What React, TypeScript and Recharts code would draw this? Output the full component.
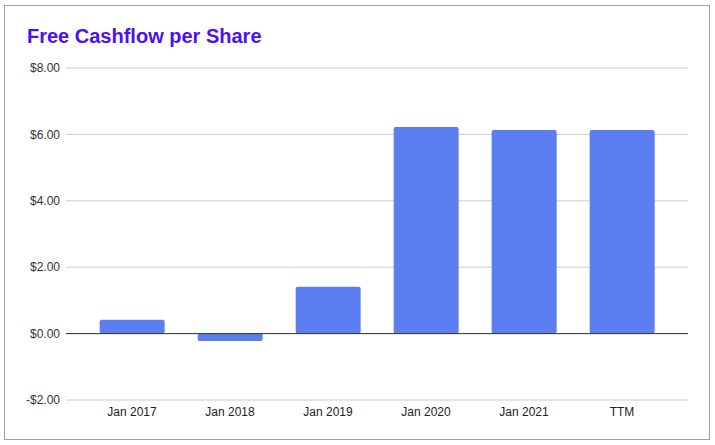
import { BarChart, Bar, XAxis, YAxis, CartesianGrid, ReferenceLine } from 'recharts'

const categories = ['Jan 2017', 'Jan 2018', 'Jan 2019', 'Jan 2020', 'Jan 2021', 'TTM']
const fcfPerShare = [0.42, -0.22, 1.41, 6.22, 6.13, 6.13]
const yTicks = [-2, 0, 2, 4, 6, 8]

const data = categories.map((name, i) => ({ name, value: fcfPerShare[i] }))

const fmt = (v: number) => (v < 0 ? `-$${Math.abs(v).toFixed(2)}` : `$${v.toFixed(2)}`)

export default function App() {
  return (
    <div
      style={{
        position: 'fixed',
        top: 0,
        left: 0,
        width: 715,
        height: 445,
        background: '#fff',
        fontFamily: '"Liberation Sans", Arial, sans-serif',
      }}
    >
      <div
        style={{
          position: 'absolute',
          left: 4,
          top: 5,
          width: 706,
          height: 435,
          border: '1px solid #a0a0a0',
          boxSizing: 'border-box',
        }}
      />
      <div
        style={{
          position: 'absolute',
          left: 27,
          top: 25,
          fontSize: 20,
          fontWeight: 'bold',
          color: '#4c0ff7',
        }}
      >
        Free Cashflow per Share
      </div>
      <div style={{ position: 'absolute', left: 0, top: 0 }}>
        <BarChart
          width={715}
          height={445}
          data={data}
          margin={{ top: 68, right: 27, bottom: 15, left: 8 }}
          barCategoryGap="17%"
        >
          <CartesianGrid horizontal vertical={false} stroke="#cccccc" />
          <XAxis
            dataKey="name"
            height={30}
            axisLine={false}
            tickLine={false}
            tickSize={0}
            tickMargin={7}
            padding={{ left: 17, right: 17 }}
            tick={{ fill: '#222', fontSize: 12 }}
          />
          <YAxis
            width={58}
            domain={[-2, 8]}
            ticks={yTicks}
            axisLine={false}
            tickLine={false}
            tickSize={0}
            tickMargin={6}
            tickFormatter={fmt}
            tick={{ fill: '#333', fontSize: 12 }}
          />
          <ReferenceLine y={0} stroke="#333" strokeWidth={1} />
          <Bar dataKey="value" fill="#5b7ff1" radius={2} isAnimationActive={false} />
        </BarChart>
      </div>
    </div>
  )
}
